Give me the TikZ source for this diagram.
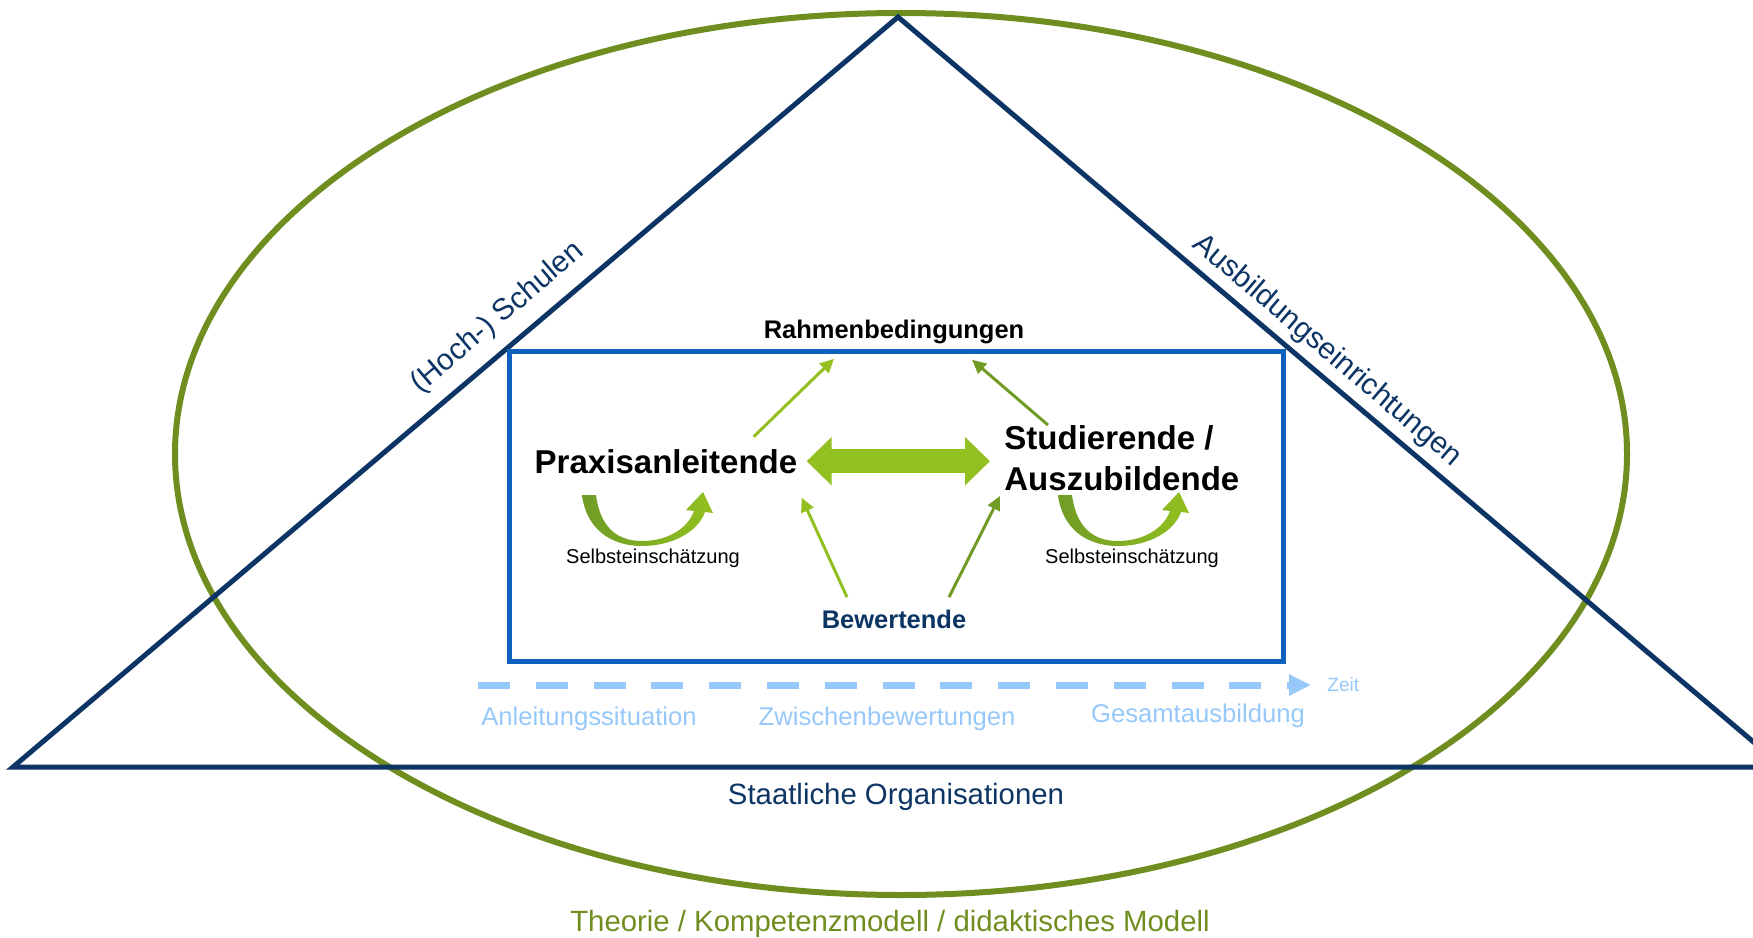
\documentclass[tikz,border=0pt]{standalone}
\usepackage{fontspec}
\setmainfont{Liberation Sans}
\usepackage{tikz}
\usetikzlibrary{calc,positioning,arrows.meta}

\definecolor{navy}{RGB}{12,52,100}
\definecolor{frameblue}{RGB}{16,96,190}
\definecolor{olivegreen}{RGB}{112,142,32}
\definecolor{lightgreen}{RGB}{146,192,32}
\definecolor{darkgreen}{RGB}{112,156,38}
\definecolor{timeblue}{RGB}{150,200,250}

\begin{document}
\begin{tikzpicture}[x=0.2mm, y=-0.2mm,
		sideline/.style={draw=navy, line width=1mm, line join=miter},
		ring/.style={draw=olivegreen, line width=1.2mm},
		frameline/.style={draw=frameblue, line width=1mm},
		actor/.style={inner sep=0, font=\bfseries\fontsize{18.8}{23.3}\selectfont},
		toplabel/.style={inner sep=0, font=\bfseries\fontsize{14.5}{17}\selectfont},
		selflabel/.style={inner sep=0, font=\fontsize{11.4}{14}\selectfont},
		phaselabel/.style={inner sep=0, text=timeblue, font=\fontsize{14.6}{17}\selectfont},
		orglabel/.style={inner sep=0, text=navy, font=\fontsize{16.7}{20}\selectfont},
		sidelabel/.style={inner sep=0, text=navy, font=\fontsize{17}{20}\selectfont},
		linkarrow/.style={line width=0.6mm, -{Triangle[length=2.8mm,width=2.6mm]}},
		bigarrow/.style={draw=lightgreen, line width=4.8mm, {Triangle[length=5mm,width=9.4mm]}-{Triangle[length=5mm,width=9.4mm]}},
		timeline/.style={draw=timeblue, line width=1.4mm, dash pattern=on 6.4mm off 5.16mm, -{Triangle[length=4.4mm,width=4mm]}}]
		\useasboundingbox (0,0) rectangle (1753,938);
		\clip (0,0) rectangle (1753,938);
		\draw[ring] (901,454) ellipse [x radius=726, y radius=441];
		\coordinate (apex) at (898,17);
		\coordinate (left corner) at (13,767);
		\coordinate (right corner) at (1783,767);
		\draw[sideline] (left corner) -- (apex) -- (right corner) -- cycle;
		\node(schulen) [sidelabel, rotate=40.3] at (498,318) {(Hoch-) Schulen};
		\node(einr) [sidelabel, rotate=-40.3] at (1327,351) {Ausbildungseinrichtungen};
		\node(staat) [orglabel, anchor=base] at (896,804) {Staatliche Organisationen};
		\node(theorie) [orglabel, text=olivegreen, anchor=base] at (890,931) {Theorie / Kompetenzmodell / didaktisches Modell};

		\draw[frameline] (509,351) rectangle (1283,661);
		\node(rahmen) [toplabel, anchor=base] at (894,338) {Rahmenbedingungen};
		\node(praxis) [actor, anchor=base] at (666,473) {Praxisanleitende};
		\node(stud) [actor, anchor=west, align=left] at (1004,458) {Studierende /\\Auszubildende};
		\node(bewert) [toplabel, text=navy, anchor=base] at (894,628) {Bewertende};

		\draw[linkarrow, lightgreen] ($(praxis.north east)+(-44,-12)$) -- ($(rahmen.south)+(-60,15)$);
		\draw[linkarrow, darkgreen] ($(stud.north west)+(44,0)$) -- ($(rahmen.south)+(78,16)$);
		\draw[linkarrow, lightgreen] ($(bewert.north)+(-47,-12)$) -- ($(praxis.south east)+(4,24)$);
		\draw[linkarrow, darkgreen] ($(bewert.north)+(55,-12)$) -- ($(stud.south west)+(-4,5)$);
		\draw[bigarrow] ($(praxis.east)+(9,0)$) -- ($(stud.west |- praxis.east)+(-14,0)$);

		\begin{scope}
			\shade[left color=darkgreen, right color=lightgreen]
				(582,495) .. controls (586,528) and (610,546) .. (642,546)
				.. controls (672,546) and (698,532) .. (705,512)
				-- (713,513) -- (703,492) -- (686,510) -- (694,511)
				.. controls (688,528) and (668,541) .. (642,541)
				.. controls (616,541) and (600,526) .. (596,495) -- cycle;
			\node(self1) [selflabel, anchor=base] at (653,563) {Selbsteinschätzung};
		\end{scope}
		\begin{scope}[shift={(476,0)}]
			\shade[left color=darkgreen, right color=lightgreen]
				(582,495) .. controls (586,528) and (610,546) .. (642,546)
				.. controls (672,546) and (698,532) .. (705,512)
				-- (713,513) -- (703,492) -- (686,510) -- (694,511)
				.. controls (688,528) and (668,541) .. (642,541)
				.. controls (616,541) and (600,526) .. (596,495) -- cycle;
			\node(self2) [selflabel, anchor=base] at (656,563) {Selbsteinschätzung};
		\end{scope}

		\coordinate (tstart) at (478,685);
		\coordinate (tend) at (1311,685);
		\draw[timeline] (tstart) -- (tend);
		\node(zeit) [phaselabel, font=\fontsize{10.9}{13}\selectfont, right=3.2mm of tend] {Zeit};
		\node(anleit) [phaselabel, anchor=base] at (589,725) {Anleitungssituation};
		\node(zwischen) [phaselabel, anchor=base] at (887,725) {Zwischenbewertungen};
		\node(gesamt) [phaselabel, anchor=base] at (1198,722) {Gesamtausbildung};
	\end{tikzpicture}
\end{document}
